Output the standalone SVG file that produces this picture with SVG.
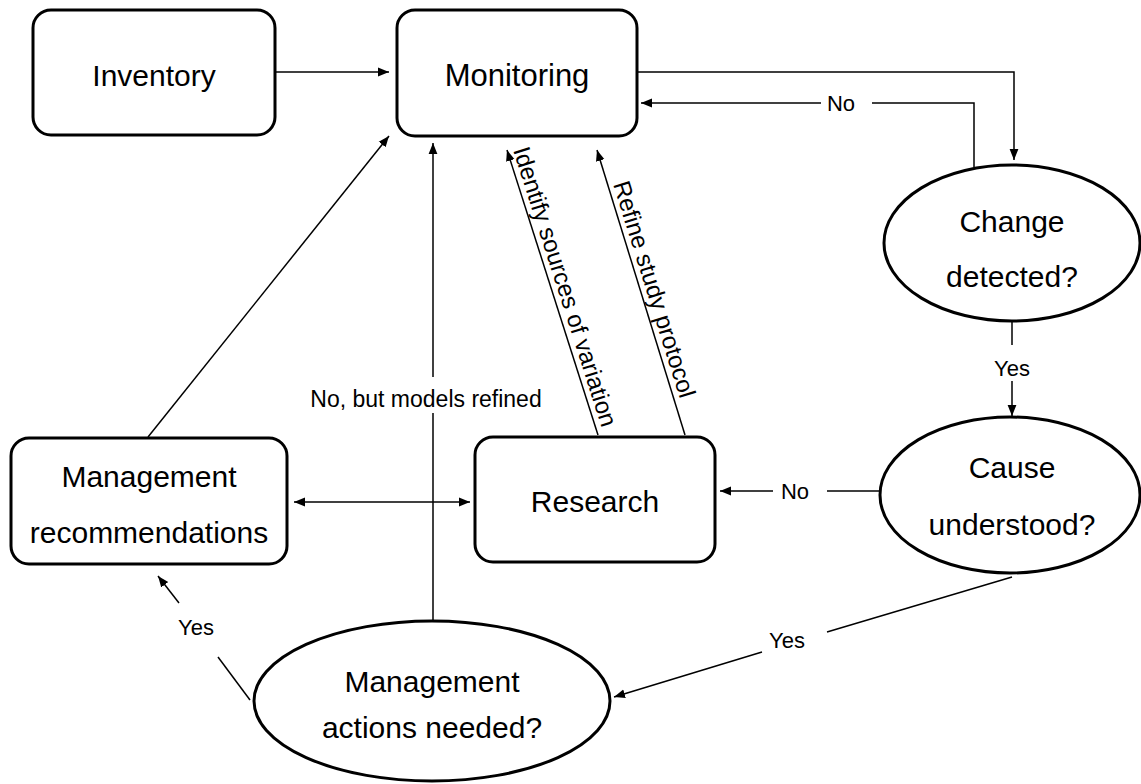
<svg xmlns="http://www.w3.org/2000/svg" width="1141" height="784" viewBox="0 0 1141 784">
<defs>
<marker id="ah" viewBox="0 0 10 10" refX="10" refY="5" markerWidth="11" markerHeight="11" markerUnits="userSpaceOnUse" orient="auto-start-reverse">
<path d="M0,1 L10,5 L0,9 Z" fill="#000"/>
</marker>
</defs>
<style>
.box{fill:#fff;stroke:#000;stroke-width:3}
.t{font-family:"Liberation Sans",Arial,sans-serif;font-size:30px;fill:#000;text-anchor:middle}
.l{font-family:"Liberation Sans",Arial,sans-serif;font-size:22px;fill:#000;text-anchor:middle}
.r{font-family:"Liberation Sans",Arial,sans-serif;font-size:24px;fill:#000}
.c{fill:none;stroke:#000;stroke-width:1.5}
.a{marker-end:url(#ah)}
</style>
<rect width="1141" height="784" fill="#fff"/>
<g id="connectors">
<line class="c a" x1="275" y1="72" x2="389" y2="72"/>
<polyline class="c a" points="637,72 1014,72 1014,160"/>
<polyline class="c" points="974,167 974,103 872,103"/>
<line class="c a" x1="821" y1="103" x2="641" y2="103"/>
<text class="l" x="841" y="111">No</text>
<line class="c" x1="1012" y1="322" x2="1012" y2="345"/>
<text class="l" x="1012" y="376">Yes</text>
<line class="c a" x1="1012" y1="381" x2="1012" y2="416"/>
<line class="c" x1="880" y1="491" x2="827" y2="491"/>
<text class="l" x="795" y="499">No</text>
<line class="c a" x1="773" y1="491" x2="720" y2="491"/>
<line class="c" x1="1012" y1="577" x2="827" y2="632"/>
<text class="l" x="787" y="648">Yes</text>
<line class="c a" x1="762" y1="652" x2="614" y2="697"/>
<line class="c" x1="250" y1="700" x2="218" y2="657"/>
<text class="l" x="196" y="635">Yes</text>
<line class="c a" x1="179" y1="603" x2="158" y2="576"/>
<line class="c a" x1="294" y1="502" x2="470" y2="502" marker-start="url(#ah)"/>
<line class="c a" x1="148" y1="437" x2="389" y2="136"/>
<line class="c" x1="433" y1="620" x2="433" y2="413"/>
<line class="c a" x1="433" y1="377" x2="433" y2="143"/>
<text class="l" x="426" y="407" style="font-size:23px">No, but models refined</text>
<line class="c a" x1="598" y1="435" x2="507" y2="150"/>
<text class="r" transform="translate(513,150) rotate(72.3)">Identify sources of variation</text>
<line class="c a" x1="685" y1="435" x2="597" y2="150"/>
<text class="r" transform="translate(613,184) rotate(72.7)">Refine study protocol</text>
</g>
<g id="inventory">
<rect class="box" x="33" y="10" width="242" height="125" rx="18"/>
<text class="t" x="154" y="86">Inventory</text>
</g>
<g id="monitoring">
<rect class="box" x="397" y="10" width="240" height="126" rx="18"/>
<text class="t" x="517" y="86" style="font-size:31px">Monitoring</text>
</g>
<g id="change">
<ellipse class="box" cx="1012" cy="243" rx="128" ry="78"/>
<text class="t" x="1012" y="232">Change</text>
<text class="t" x="1012" y="287">detected?</text>
</g>
<g id="cause">
<ellipse class="box" cx="1010" cy="495" rx="130" ry="78"/>
<text class="t" x="1012" y="478">Cause</text>
<text class="t" x="1012" y="535">understood?</text>
</g>
<g id="research">
<rect class="box" x="475" y="437" width="240" height="125" rx="18"/>
<text class="t" x="595" y="512">Research</text>
</g>
<g id="recommendations">
<rect class="box" x="11" y="438" width="276" height="126" rx="18"/>
<text class="t" x="149" y="487">Management</text>
<text class="t" x="149" y="543">recommendations</text>
</g>
<g id="actions">
<ellipse class="box" cx="432" cy="701" rx="178" ry="80"/>
<text class="t" x="432" y="692">Management</text>
<text class="t" x="432" y="738">actions needed?</text>
</g>
</svg>
